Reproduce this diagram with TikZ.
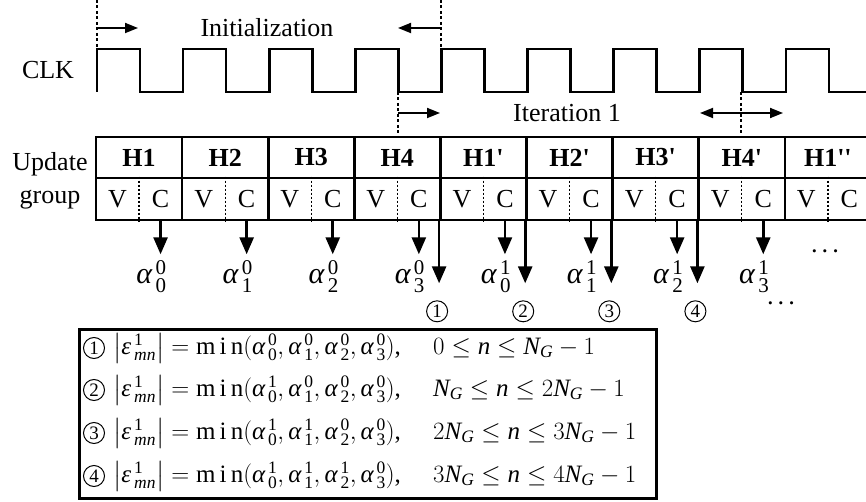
\documentclass[tikz,border=0pt]{standalone}
\usepackage{amsmath}
\usepackage{fontspec}
\setmainfont{Liberation Serif}
\usetikzlibrary{arrows.meta,positioning}

\newcommand{\al}[2]{\textit{α}^{\,\text{#1}}_{\,\text{#2}}}

\tikzset{
  >={Triangle[length=13pt,width=10pt]},
  clkwave/.style={line width=2.6pt},
  tickline/.style={line width=2pt, dash pattern=on 3pt off 2.5pt},
  spanline/.style={line width=1.8pt},
  hcell/.style={draw, line width=2.6pt, minimum width=86.1pt, minimum height=41pt, inner sep=0pt, font=\fontsize{26}{31}\selectfont\bfseries},
  vcell/.style={draw, line width=2.6pt, minimum width=86.1pt, minimum height=42pt, inner sep=0pt},
  vcsplit/.style={line width=1.3pt, dash pattern=on 2pt off 2pt},
  outarrow/.style={line width=2.6pt, -{Triangle[length=17pt,width=14pt]}},
  circnum/.style={circle, draw, line width=1pt, minimum size=21pt, inner sep=0pt, font=\fontsize{19}{19}\selectfont},
  alabel/.style={inner sep=0pt, font=\fontsize{30}{30}\selectfont},
  dots/.style={font=\fontsize{22}{22}\selectfont\boldmath},
}

\begin{document}
\begin{tikzpicture}[x=1pt, y=-1pt, font=\fontsize{26}{31}\selectfont]
\useasboundingbox (0,0) rectangle (866,502);

% clock
\node (clk) at (48,70) {CLK};
\draw[clkwave] (97,92) \foreach \k in {0,...,8} { -- ++(0,-43) -- ++(43.05,0) -- ++(0,43) -- ++(43.05,0) };

% initialization / iteration marks
\draw[tickline] (97,0) -- (97,49);
\draw[tickline] (441,0) -- (441,49);
\draw[tickline] (398,92) -- (398,137);
\draw[tickline] (741,92) -- (741,137);
\draw[spanline,->] (97,28) -- (138,28);
\draw[spanline,->] (441,28) -- (398,28);
\node (init) at (267,28) {Initialization};
\draw[spanline,->] (398,113) -- (440,113);
\draw[spanline,<->] (700,113) -- (783,113);
\node (iter) at (567,113) {Iteration 1};

% update groups
\node[align=center, font=\fontsize{26}{33}\selectfont] (upd) at (50,181) {Update\\group};
\foreach \t [count=\i] in {H1,H2,H3,H4,H1\textquotesingle,H2\textquotesingle,H3\textquotesingle,H4\textquotesingle,H1\textquotesingle\textquotesingle} {
  \node[hcell] (h\i) at (52.95+86.1*\i,157.5) {\t};
  \node[vcell] (g\i) at (52.95+86.1*\i,199) {};
  \node (v\i) at ([xshift=-21.5pt]g\i.center) {V};
  \node (c\i) at ([xshift=21.5pt]g\i.center) {C};
  \draw[vcsplit] (g\i.north) -- (g\i.south);
}

% check node outputs
\foreach \i/\s/\b in {1/0/0,2/0/1,3/0/2,4/0/3,5/1/0,6/1/1,7/1/2,8/1/3} {
  \draw[outarrow] (c\i |- g\i.south) -- ++(0,33) coordinate (t\i);
  \node[alabel] (a\i) at ([xshift=-9pt,yshift=-22pt]t\i) {$\al{\s}{\b}$};
}

% minimum updates
\foreach \j in {1,...,4} {
  \pgfmathtruncatemacro\k{\j+4}
  \path (g\k.south west) ++(-2,90) node[circnum] (n\j) {\j};
  \draw[outarrow, shorten >=17pt] (g\k.south west) -- (g\k.south west |- n\j.north);
}
\node[dots] (more1) at (827,252) {$\cdots$};
\node[dots] (more2) at (783,304) {$\cdots$};

% formulas
\node[draw, line width=2.6pt, minimum width=577pt, minimum height=169pt, anchor=north west, inner sep=0pt] (box) at (78,328) {};
\foreach \j/\y/\p/\q/\r/\cond in {1/348/0/0/0/{0\le \textit{n}\le \textit{N}_{\textit{G}}-1},2/390/1/0/0/{\textit{N}_{\textit{G}}\le \textit{n}\le 2\textit{N}_{\textit{G}}-1},3/433/1/1/0/{2\textit{N}_{\textit{G}}\le \textit{n}\le 3\textit{N}_{\textit{G}}-1},4/476/1/1/1/{3\textit{N}_{\textit{G}}\le \textit{n}\le 4\textit{N}_{\textit{G}}-1}} {
  \node[circnum] (r\j) at (94,\y) {\j};
  \node[anchor=west, inner sep=0pt, font=\fontsize{25}{28}\selectfont] (f\j) at (113,\y) {\makebox[320pt][l]{$\left|\textit{ε}^{\,\text{1}}_{\,\textit{mn}}\right| = \text{m\,i\,n}(\al{\p}{0},\al{\q}{1},\al{\r}{2},\al{0}{3})$,}$\cond$};
}
\end{tikzpicture}
\end{document}
